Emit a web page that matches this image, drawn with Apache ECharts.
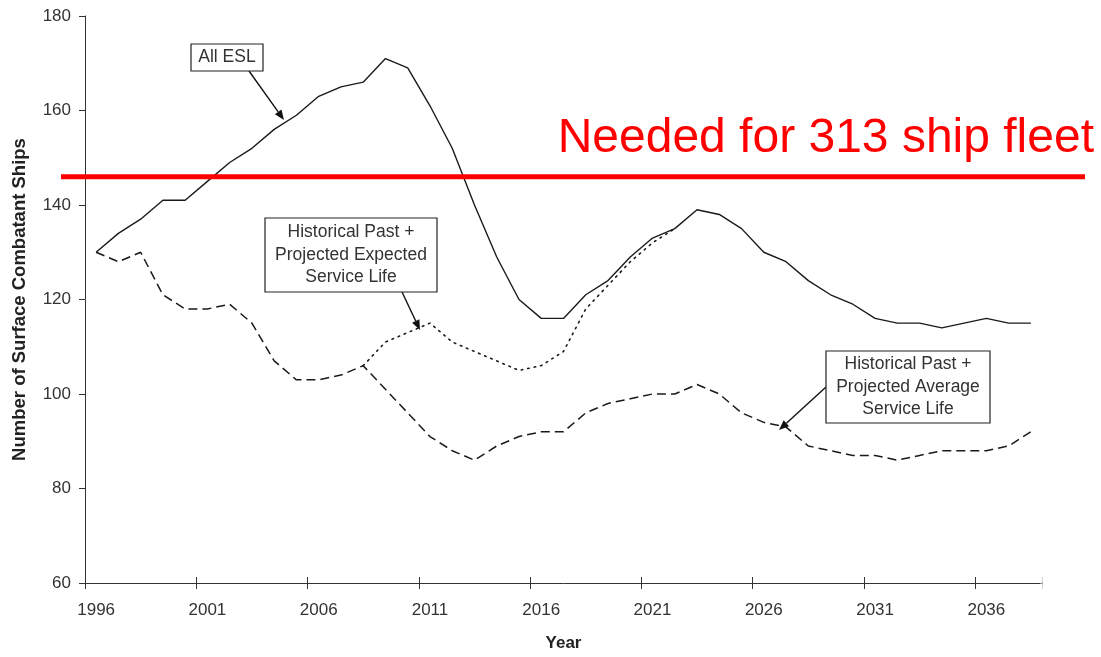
<!DOCTYPE html>
<html>
<head>
<meta charset="utf-8">
<script src="https://cdn.jsdelivr.net/npm/echarts@6/dist/echarts.min.js"></script>
<style>
  html, body { margin: 0; padding: 0; background: #fff; }
  #chart { width: 1101px; height: 657px; }
</style>
</head>
<body>
<div id="chart"></div>
<script>
// ---- Data ----
const years = [];
for (let y = 1996; y <= 2038; y++) years.push(String(y));

const allEsl = [130,134,137,141,141,145,149,152,156,159,163,165,166,171,169,161,152,140,129,120,
                116,116,121,124,129,133,135,139,138,135,130,128,124,121,119,116,115,115,114,115,
                116,115,115];
const expectedLife = [null,null,null,null,null,null,null,null,null,null,null,null,
                106,111,113,115,111,109,107,105,106,109,118,123,128,132,135,
                null,null,null,null,null,null,null,null,null,null,null,null,null,null,null,null];
const averageLife = [130,128,130,121,118,118,119,115,107,103,103,104,106,101,96,91,88,86,89,91,
                92,92,96,98,99,100,100,102,100,96,94,93,89,88,87,87,86,87,88,88,
                88,89,92];
const neededLevel = 146;
const neededLabel = 'Needed for 313 ship fleet';
const yTicks = { min: 60, max: 180, interval: 20 };

const FONT = '"Liberation Sans", Arial, sans-serif';
const INK = '#1a1a1a';

const chart = echarts.init(document.getElementById('chart'));

chart.setOption({
  animation: false,
  backgroundColor: '#fff',
  grid: { left: 85, right: 59, top: 16, bottom: 69 },
  xAxis: [{
    type: 'category',
    data: years,
    boundaryGap: true,
    axisLine: { lineStyle: { color: '#333', width: 1 } },
    axisTick: { show: true, interval: 4, length: 6, lineStyle: { color: '#333' } },
    axisLabel: { interval: 4, fontSize: 17, color: '#333', fontFamily: FONT, margin: 19 },
    splitLine: { show: false },
    name: 'Year',
    nameLocation: 'middle',
    nameGap: 52,
    nameTextStyle: { fontSize: 17, fontWeight: 'bold', color: '#222', fontFamily: FONT }
  }, {
    type: 'category',
    data: years,
    boundaryGap: true,
    position: 'bottom',
    axisLine: { show: false },
    axisTick: { show: true, inside: true, interval: 4, length: 6, lineStyle: { color: '#333' } },
    axisLabel: { show: false },
    splitLine: { show: false }
  }],
  yAxis: {
    type: 'value',
    min: yTicks.min, max: yTicks.max, interval: yTicks.interval,
    axisLine: { show: true, lineStyle: { color: '#333', width: 1 } },
    axisTick: { show: true, length: 6, lineStyle: { color: '#333' } },
    axisLabel: { fontSize: 17, color: '#333', fontFamily: FONT, margin: 14 },
    splitLine: { show: false },
    name: 'Number of Surface Combatant Ships',
    nameLocation: 'middle',
    nameRotate: 90,
    nameGap: 56,
    nameTextStyle: { fontSize: 18.5, fontWeight: 'bold', color: '#222', fontFamily: FONT }
  },
  series: [
    {
      name: 'Historical Past + Projected Expected Service Life',
      type: 'line', data: expectedLife, showSymbol: false, connectNulls: false, z: 2,
      lineStyle: { color: INK, width: 1.6, type: [1.6, 5], cap: 'round' }
    },
    {
      name: 'Historical Past + Projected Average Service Life',
      type: 'line', data: averageLife, showSymbol: false, z: 3,
      lineStyle: { color: INK, width: 1.5, type: [9, 5] }
    },
    {
      name: 'All ESL',
      type: 'line', data: allEsl, showSymbol: false, z: 4,
      lineStyle: { color: INK, width: 1.4, type: 'solid' }
    }
  ]
});

// ---- Annotations ----
function arrow(x1, y1, x2, y2) {
  const ang = Math.atan2(y2 - y1, x2 - x1);
  const L = 10, W = 4;
  const bx = x2 - L * Math.cos(ang), by = y2 - L * Math.sin(ang);
  const px = -Math.sin(ang) * W, py = Math.cos(ang) * W;
  return [
    { type: 'line', shape: { x1, y1, x2: bx, y2: by }, style: { stroke: '#111', lineWidth: 1.4 }, z: 20 },
    { type: 'polygon', shape: { points: [[x2, y2], [bx + px, by + py], [bx - px, by - py]] },
      style: { fill: '#111' }, z: 20 }
  ];
}
function box(x, y, w, h, text) {
  return [
    { type: 'rect', shape: { x, y, width: w, height: h }, style: { fill: '#fff', stroke: '#222', lineWidth: 1.2 }, z: 21 },
    { type: 'text', x: x + w / 2, y: y + h / 2, z: 22,
      style: { text, fontSize: 17.5, fontFamily: FONT, fill: '#333', align: 'center', verticalAlign: 'middle', lineHeight: 22.5 } }
  ];
}

const yRed = chart.convertToPixel({ yAxisIndex: 0 }, neededLevel);
// x-axis end: hide the extra closing tick that the category axis adds at its far end
const axisEndX = chart.convertToPixel({ xAxisIndex: 0 }, years[years.length - 1]) +
  (chart.convertToPixel({ xAxisIndex: 0 }, years[1]) - chart.convertToPixel({ xAxisIndex: 0 }, years[0])) / 2;
const axisY = chart.convertToPixel({ yAxisIndex: 0 }, yTicks.min);

chart.setOption({
  graphic: [
    { type: 'rect', shape: { x: axisEndX + 0.5, y: axisY - 8, width: 4, height: 16 }, style: { fill: '#fff' }, z: 40 },
    { type: 'rect', shape: { x: axisEndX - 2, y: axisY - 8, width: 2.6, height: 7.4 }, style: { fill: '#fff' }, z: 40 },
    { type: 'rect', shape: { x: axisEndX - 2, y: axisY + 0.6, width: 2.6, height: 7.4 }, style: { fill: '#fff' }, z: 40 },
    { type: 'line', shape: { x1: 61, y1: yRed, x2: 1085, y2: yRed }, style: { stroke: '#ff0000', lineWidth: 5 }, z: 30 },
    { type: 'text', x: 1094, y: yRed - 37.5, z: 30,
      style: { text: neededLabel, fontSize: 48, fontFamily: FONT, fill: '#ff0000', align: 'right', verticalAlign: 'middle' } },
    ...arrow(249, 71, 284, 120),
    ...box(191, 44, 72, 27, 'All ESL'),
    ...arrow(402, 292, 420, 330),
    ...box(265, 218, 172, 74, 'Historical Past +\nProjected Expected\nService Life'),
    ...arrow(826, 387, 779, 430),
    ...box(826, 351, 164, 72, 'Historical Past +\nProjected Average\nService Life')
  ]
});
</script>
</body>
</html>
